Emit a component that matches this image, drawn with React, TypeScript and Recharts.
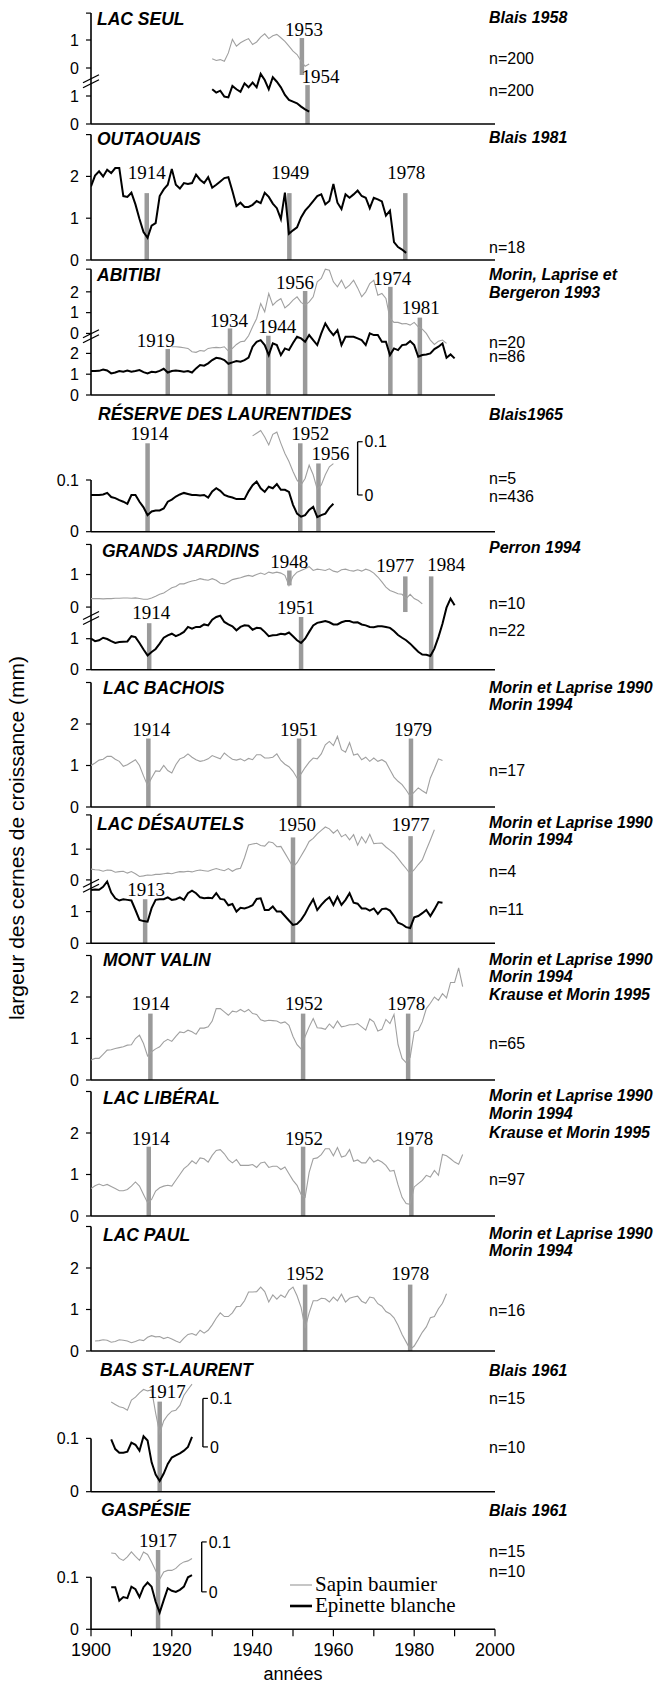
import React from 'react';
import { LineChart, Line, XAxis, YAxis, ReferenceLine, ReferenceDot } from 'recharts';

const SANS = '"Liberation Sans", Arial, Helvetica, sans-serif';
const SERIF = '"Liberation Serif", "Times New Roman", serif';
const GRAY = '#a0a0a0';
const BAR = '#9a9a9a';
const PAGE_W = 664;
const PAGE_H = 1684;
const PLOT_LEFT = 91;
const PLOT_RIGHT = 495;

// ---------------- DATA ----------------
const xTicks = [1900, 1910, 1920, 1930, 1940, 1950, 1960, 1970, 1980, 1990, 2000];

const lacSeulSapin = [0.33, 0.27, 0.30, 0.24, 0.54, 1.02, 0.78, 0.90, 0.98, 1.05, 0.84, 0.93, 1.10, 1.22, 1.05, 1.15, 1.20, 1.08, 0.95, 0.78, 0.60, 0.48, 0.25, 0.06, 0.14]; // 1930-
const lacSeulEpinette = [1.24, 1.12, 1.19, 0.98, 0.95, 1.36, 1.24, 1.15, 1.45, 1.31, 1.48, 1.31, 1.79, 1.57, 1.24, 1.67, 1.51, 1.31, 1.04, 0.86, 0.80, 0.74, 0.62, 0.52, 0.44]; // 1930-

const outaouaisEpinette = [
  1.76, 2.02, 2.12, 2.00, 2.16, 2.08, 2.20, 2.20, 1.53, 1.51,
  1.61, 1.33, 0.98, 0.67, 0.53, 0.82, 0.88, 1.53, 1.69, 1.80,
  2.18, 1.80, 1.71, 1.84, 1.82, 1.84, 2.04, 1.92, 1.84, 1.98,
  1.73, 1.80, 1.88, 1.96, 1.98, 1.65, 1.29, 1.37, 1.27, 1.27,
  1.32, 1.41, 1.36, 1.61, 1.51, 1.35, 1.24, 0.98, 1.61, 0.63,
  0.71, 0.78, 1.02, 1.18, 1.29, 1.41, 1.53, 1.57, 1.33, 1.41,
  1.82, 1.37, 1.22, 1.57, 1.49, 1.57, 1.66, 1.53, 1.49, 1.24,
  1.49, 1.45, 1.40, 1.06, 1.18, 0.43, 0.31, 0.25, 0.17]; // 1900-1978

const abitibiSapin = [
  -0.64, -0.64, -0.66, -0.69, -0.72, -0.88, -0.91, -0.82, -0.85, -0.72,
  -0.69, -0.67, -0.69, -0.64, -0.85, -0.72, -0.53, -0.40, -0.37, -0.11,
  0.32, 0.72, 1.44, 1.04, 1.92, 1.36, 1.55, 1.68, 1.23, 1.39,
  1.60, 1.76, 1.49, 1.36, 1.52, 1.76, 2.48, 2.64, 3.09, 3.04,
  2.48, 2.24, 2.56, 2.16, 2.32, 2.56, 2.19, 1.76, 2.00, 2.40,
  2.56, 1.84, 1.92, 1.68, 0.72, 0.53, 0.53, 0.46, 0.48, 0.40,
  0.53, 0.32, 0.21, 0.00, -0.32, -0.53, -0.37, -0.32, -0.48]; // 1920-1988
const abitibiEpinette = [
  1.15, 1.15, 1.16, 1.22, 1.18, 1.04, 1.08, 1.15, 1.12, 1.18,
  1.12, 1.15, 1.20, 1.10, 1.04, 1.12, 1.10, 1.16, 1.26, 1.08,
  1.15, 1.18, 1.15, 1.12, 1.15, 1.08, 1.28, 1.44, 1.41, 1.52,
  1.68, 1.79, 1.76, 1.68, 1.50, 1.57, 1.63, 1.60, 1.68, 1.80,
  2.32, 2.56, 2.64, 2.40, 1.92, 2.48, 2.40, 1.92, 2.24, 2.16,
  2.50, 2.80, 2.72, 2.56, 2.88, 2.64, 2.40, 2.96, 3.44, 3.12,
  2.88, 3.12, 2.40, 2.80, 2.80, 2.80, 2.72, 2.64, 2.40, 2.96,
  2.88, 2.88, 2.56, 2.56, 1.92, 2.24, 2.16, 2.40, 2.43, 2.59,
  2.40, 1.84, 1.92, 1.95, 2.00, 2.21, 2.32, 2.48, 1.79, 1.95, 1.76]; // 1900-1990

const reserveSapin = [0.111, 0.116, 0.121, 0.109, 0.094, 0.114, 0.118, 0.097, 0.078, 0.063, 0.044, 0.028, 0.019, 0.031, 0.056, 0.038, 0.011, 0.019, 0.038, 0.053, 0.059]; // 1940-1960
const reserveEpinette = [
  0.071, 0.071, 0.071, 0.072, 0.075, 0.067, 0.065, 0.061, 0.058, 0.054,
  0.071, 0.071, 0.058, 0.047, 0.032, 0.039, 0.041, 0.041, 0.045, 0.058,
  0.062, 0.068, 0.072, 0.075, 0.073, 0.071, 0.071, 0.070, 0.071, 0.066,
  0.078, 0.084, 0.079, 0.071, 0.068, 0.066, 0.063, 0.063, 0.063, 0.078,
  0.090, 0.097, 0.084, 0.077, 0.087, 0.084, 0.092, 0.081, 0.081, 0.077,
  0.052, 0.035, 0.029, 0.032, 0.042, 0.048, 0.028, 0.032, 0.035, 0.046,
  0.054]; // 1900-1960

const jardinsSapin = [
  0.26, 0.26, 0.26, 0.25, 0.26, 0.26, 0.27, 0.27, 0.28, 0.28,
  0.27, 0.28, 0.26, 0.24, 0.24, 0.28, 0.33, 0.39, 0.43, 0.51,
  0.59, 0.63, 0.71, 0.71, 0.76, 0.80, 0.82, 0.87, 0.84, 0.82,
  0.87, 0.82, 0.73, 0.71, 0.77, 0.84, 0.87, 0.90, 0.94, 0.97,
  0.94, 1.00, 1.04, 1.00, 1.07, 1.04, 1.07, 1.04, 0.97, 0.66,
  0.94, 1.07, 1.12, 1.17, 1.24, 1.12, 1.16, 1.14, 1.12, 1.17,
  1.10, 1.07, 1.14, 1.16, 1.12, 1.10, 1.14, 1.10, 1.16, 1.12,
  1.04, 0.92, 0.77, 0.61, 0.51, 0.46, 0.41, 0.39, 0.26, 0.39,
  0.26, 0.20, 0.10]; // 1900-1982
const jardinsEpinette = [
  1.00, 0.92, 0.95, 1.03, 0.99, 0.92, 0.86, 0.89, 0.90, 0.91,
  1.08, 1.05, 0.86, 0.65, 0.46, 0.57, 0.67, 0.84, 1.03, 1.11,
  1.16, 1.08, 1.14, 1.22, 1.38, 1.32, 1.38, 1.38, 1.46, 1.43,
  1.61, 1.70, 1.74, 1.54, 1.46, 1.40, 1.27, 1.38, 1.43, 1.42,
  1.29, 1.35, 1.34, 1.22, 1.08, 1.11, 1.12, 1.16, 1.14, 1.20,
  1.08, 0.95, 0.86, 1.00, 1.22, 1.43, 1.51, 1.54, 1.57, 1.53,
  1.46, 1.46, 1.53, 1.57, 1.57, 1.52, 1.53, 1.46, 1.43, 1.38,
  1.37, 1.40, 1.40, 1.38, 1.35, 1.25, 1.12, 1.03, 0.95, 0.84,
  0.71, 0.58, 0.49, 0.48, 0.44, 0.68, 1.05, 1.48, 2.00, 2.29,
  2.08]; // 1900-1990

const bachoisSapin = [
  1.00, 1.06, 1.13, 1.15, 1.22, 1.22, 1.15, 1.10, 0.98, 1.02,
  1.08, 1.14, 1.00, 0.75, 0.52, 0.70, 0.87, 0.86, 1.00, 0.88,
  0.82, 1.02, 1.16, 1.20, 1.28, 1.20, 1.14, 1.10, 1.12, 1.16,
  1.24, 1.20, 1.16, 1.30, 1.22, 1.15, 1.13, 1.16, 1.11, 1.17,
  1.14, 1.26, 1.26, 1.18, 1.18, 1.20, 1.28, 1.12, 1.03, 0.97,
  0.86, 0.70, 0.80, 0.95, 1.08, 1.18, 1.16, 1.28, 1.50, 1.58,
  1.48, 1.70, 1.38, 1.32, 1.55, 1.25, 1.28, 1.14, 1.20, 1.10,
  1.18, 1.10, 1.14, 1.08, 0.90, 0.72, 0.62, 0.54, 0.41, 0.26,
  0.36, 0.46, 0.39, 0.33, 0.70, 0.92, 1.16, 1.12]; // 1900-1987

const desautelsSapin = [
  0.35, 0.33, 0.32, 0.28, 0.32, 0.31, 0.25, 0.27, 0.28, 0.22,
  0.27, 0.20, 0.11, 0.13, 0.16, 0.15, 0.18, 0.18, 0.20, 0.22,
  0.20, 0.24, 0.27, 0.26, 0.28, 0.26, 0.30, 0.32, 0.30, 0.28,
  0.33, 0.37, 0.33, 0.30, 0.37, 0.28, 0.35, 0.38, 0.72, 1.14,
  1.17, 1.19, 1.12, 1.10, 1.24, 1.21, 1.08, 1.09, 0.87, 0.65,
  0.42, 0.56, 0.78, 1.00, 1.25, 1.35, 1.50, 1.61, 1.72, 1.66,
  1.52, 1.63, 1.40, 1.48, 1.30, 1.47, 1.13, 1.40, 1.20, 1.48,
  1.18, 1.19, 1.20, 1.07, 0.97, 0.86, 0.70, 0.53, 0.37, 0.20,
  0.33, 0.50, 0.65, 0.98, 1.30, 1.63]; // 1900-1985
const desautelsEpinette = [
  1.68, 1.70, 1.69, 1.78, 1.95, 1.60, 1.42, 1.35, 1.39, 1.37,
  1.35, 1.05, 0.74, 0.70, 0.68, 1.11, 1.37, 1.39, 1.39, 1.45,
  1.37, 1.39, 1.45, 1.37, 1.58, 1.66, 1.58, 1.45, 1.42, 1.44,
  1.42, 1.58, 1.40, 1.38, 1.20, 1.24, 1.00, 1.12, 1.10, 1.14,
  1.20, 1.40, 1.42, 1.05, 1.05, 1.16, 1.00, 1.00, 0.86, 0.72,
  0.58, 0.61, 0.74, 0.93, 1.18, 1.39, 1.05, 1.21, 1.35, 1.45,
  1.21, 1.47, 1.21, 1.37, 1.58, 1.28, 1.25, 1.10, 1.10, 1.03,
  1.10, 0.93, 1.08, 1.10, 1.03, 0.86, 0.65, 0.60, 0.51, 0.48,
  0.82, 0.86, 0.95, 1.05, 0.86, 1.07, 1.30, 1.28]; // 1900-1987

const valinSapin = [
  0.48, 0.52, 0.52, 0.62, 0.72, 0.73, 0.76, 0.78, 0.80, 0.84,
  0.85, 1.00, 1.08, 0.88, 0.58, 0.68, 0.75, 0.80, 0.92, 0.98,
  0.93, 1.05, 1.16, 1.14, 1.20, 1.16, 1.10, 1.25, 1.25, 1.28,
  1.42, 1.72, 1.72, 1.64, 1.56, 1.66, 1.64, 1.70, 1.64, 1.70,
  1.60, 1.58, 1.45, 1.42, 1.44, 1.43, 1.42, 1.37, 1.40, 1.32,
  1.05, 0.85, 0.75, 1.05, 1.28, 1.48, 1.26, 1.25, 1.22, 1.35,
  1.25, 1.42, 1.28, 1.30, 1.33, 1.33, 1.36, 1.28, 1.20, 1.47,
  1.40, 1.18, 1.22, 1.46, 1.36, 1.58, 0.85, 0.52, 0.42, 0.55,
  1.16, 1.20, 1.40, 1.72, 1.85, 2.00, 1.92, 2.08, 1.98, 2.35,
  2.35, 2.70, 2.25]; // 1900-1992

const liberalSapin = [
  0.66, 0.73, 0.77, 0.73, 0.76, 0.71, 0.66, 0.61, 0.61, 0.64,
  0.72, 0.82, 0.72, 0.52, 0.32, 0.40, 0.60, 0.68, 0.72, 0.74,
  0.72, 0.86, 1.00, 1.14, 1.22, 1.33, 1.26, 1.40, 1.38, 1.30,
  1.46, 1.58, 1.60, 1.50, 1.36, 1.28, 1.36, 1.22, 1.22, 1.22,
  1.24, 1.17, 1.28, 1.30, 1.17, 1.20, 1.20, 1.12, 1.18, 1.02,
  0.86, 0.74, 0.52, 0.45, 1.05, 1.38, 1.40, 1.48, 1.62, 1.62,
  1.45, 1.65, 1.42, 1.45, 1.60, 1.32, 1.35, 1.28, 1.28, 1.42,
  1.30, 1.35, 1.30, 1.22, 1.08, 1.10, 0.75, 0.45, 0.30, 0.28,
  0.70, 0.78, 0.86, 0.98, 0.94, 1.10, 0.98, 1.48, 1.45, 1.38,
  1.30, 1.25, 1.48]; // 1900-1992

const paulSapin = [
  0.24, 0.25, 0.27, 0.26, 0.21, 0.23, 0.27, 0.26, 0.24,
  0.20, 0.23, 0.27, 0.25, 0.33, 0.37, 0.34, 0.35, 0.30, 0.33,
  0.29, 0.24, 0.20, 0.31, 0.40, 0.42, 0.38, 0.50, 0.43, 0.50,
  0.63, 0.79, 0.92, 0.83, 0.83, 0.92, 1.07, 1.08, 1.21, 1.42,
  1.42, 1.43, 1.54, 1.43, 1.18, 1.35, 1.25, 1.35, 1.29, 1.46,
  1.54, 1.33, 1.05, 0.55, 0.92, 1.21, 1.21, 1.27, 1.26, 1.18,
  1.30, 1.21, 1.37, 1.18, 1.27, 1.30, 1.32, 1.20, 1.15, 1.30,
  1.28, 1.14, 1.08, 0.95, 0.90, 0.80, 0.62, 0.40, 0.22, 0.04,
  0.12, 0.28, 0.45, 0.58, 0.80, 0.83, 1.02, 1.15, 1.38]; // 1901-1988

const basSapin = [0.093, 0.088, 0.083, 0.081, 0.076, 0.097, 0.103, 0.112, 0.119, 0.116, 0.118, 0.070, 0.028, 0.054, 0.066, 0.074, 0.076, 0.086, 0.107, 0.119, 0.130]; // 1905-1925
const basEpinette = [0.098, 0.080, 0.073, 0.073, 0.075, 0.092, 0.088, 0.077, 0.104, 0.096, 0.055, 0.032, 0.020, 0.034, 0.052, 0.064, 0.068, 0.072, 0.077, 0.084, 0.103]; // 1905-1925

const gaspeSapin = [0.078, 0.077, 0.067, 0.063, 0.070, 0.080, 0.071, 0.063, 0.080, 0.075, 0.060, 0.043, 0.025, 0.040, 0.043, 0.043, 0.047, 0.055, 0.060, 0.062, 0.067]; // 1905-1925
const gaspeEpinette = [0.081, 0.081, 0.055, 0.062, 0.060, 0.082, 0.077, 0.062, 0.081, 0.090, 0.082, 0.053, 0.032, 0.056, 0.079, 0.074, 0.072, 0.076, 0.082, 0.100, 0.104]; // 1905-1925

// ---------------- TYPES / HELPERS ----------------
type Series = { start: number; values: number[]; offset?: number; scale?: number };
type Ev = { label: string; x: number; y0: number; y1: number; ly: number; dx: number };
type PanelCfg = {
  key: string; topY: number; zeroY: number; ppu: number; axisTop: number;
  ticks: number[]; tickLabels: string[]; breakAt?: number;
  gray?: Series; black?: Series; events: Ev[];
  scaleBar?: { x: number; y0: number; y1: number };
  bottom?: boolean;
};

const toPoints = (s: Series) =>
  s.values.map((v, i) => ({ year: s.start + i, v: (s.offset ?? 0) + v * (s.scale ?? 1) }));

const T3 = [0, 1, 2, 3];
const L3 = ['0', '1', '2', ''];
const T01 = [0, 0.1];
const L01 = ['0', '0.1'];

const panels: PanelCfg[] = [
  {
    key: 'seul', topY: 0, zeroY: 124, ppu: 28, axisTop: 3.96,
    ticks: [0, 1, 2, 3, 3.96], tickLabels: ['0', '1', '0', '1', ''], breakAt: 1.51,
    gray: { start: 1930, values: lacSeulSapin, offset: 2 },
    black: { start: 1930, values: lacSeulEpinette },
    events: [
      { label: '1953', x: 1952.2, y0: 1.75, y1: 3.07, ly: 3.14, dx: 2 },
      { label: '1954', x: 1953.6, y0: 0, y1: 1.39, ly: 1.47, dx: 13 },
    ],
  },
  {
    key: 'outa', topY: 125, zeroY: 260, ppu: 41.8, axisTop: 3, ticks: T3, tickLabels: L3,
    black: { start: 1900, values: outaouaisEpinette },
    events: [
      { label: '1914', x: 1913.8, y0: 0, y1: 1.6, ly: 1.93, dx: 0 },
      { label: '1949', x: 1949.1, y0: 0, y1: 1.6, ly: 1.93, dx: 1 },
      { label: '1978', x: 1977.8, y0: 0, y1: 1.6, ly: 1.93, dx: 1 },
    ],
  },
  {
    key: 'abit', topY: 261, zeroY: 395, ppu: 20.8, axisTop: 6.05,
    ticks: [0, 1, 2, 2.96, 3.96, 4.96, 6.05], tickLabels: ['0', '1', '2', '0', '1', '2', ''], breakAt: 2.8,
    gray: { start: 1920, values: abitibiSapin, offset: 2.96 },
    black: { start: 1900, values: abitibiEpinette },
    events: [
      { label: '1919', x: 1919.0, y0: 0, y1: 2.21, ly: 2.32, dx: -12 },
      { label: '1934', x: 1934.4, y0: 0, y1: 3.2, ly: 3.28, dx: -1 },
      { label: '1944', x: 1943.9, y0: 0, y1: 2.85, ly: 2.96, dx: 9 },
      { label: '1956', x: 1953.0, y0: 0, y1: 5.0, ly: 5.1, dx: -10 },
      { label: '1974', x: 1974.1, y0: 0, y1: 5.2, ly: 5.29, dx: 2 },
      { label: '1981', x: 1981.4, y0: 0, y1: 3.72, ly: 3.88, dx: 1 },
    ],
  },
  {
    key: 'rese', topY: 396, zeroY: 531.7, ppu: 517, axisTop: 0.1, ticks: T01, tickLabels: L01,
    gray: { start: 1940, values: reserveSapin, offset: 0.071, scale: 1.03 },
    black: { start: 1900, values: reserveEpinette },
    events: [
      { label: '1914', x: 1914.0, y0: 0, y1: 0.171, ly: 0.177, dx: 2 },
      { label: '1952', x: 1951.8, y0: 0, y1: 0.171, ly: 0.177, dx: 10 },
      { label: '1956', x: 1956.3, y0: 0, y1: 0.132, ly: 0.139, dx: 12 },
    ],
    scaleBar: { x: 1966, y0: 0.071, y1: 0.174 },
  },
  {
    key: 'jard', topY: 533, zeroY: 669.7, ppu: 31, axisTop: 4.04,
    ticks: [0, 1, 2.02, 3.07, 4.04], tickLabels: ['0', '1', '0', '1', ''], breakAt: 1.65,
    gray: { start: 1900, values: jardinsSapin, offset: 2.02, scale: 1.054 },
    black: { start: 1900, values: jardinsEpinette },
    events: [
      { label: '1948', x: 1949.1, y0: 2.72, y1: 3.2, ly: 3.28, dx: 0 },
      { label: '1977', x: 1977.8, y0: 1.86, y1: 3.01, ly: 3.15, dx: -10 },
      { label: '1914', x: 1914.4, y0: 0, y1: 1.5, ly: 1.65, dx: 2 },
      { label: '1951', x: 1952.0, y0: 0, y1: 1.7, ly: 1.8, dx: -5 },
      { label: '1984', x: 1984.2, y0: 0, y1: 3.01, ly: 3.17, dx: 15 },
    ],
  },
  {
    key: 'bach', topY: 671, zeroY: 807, ppu: 41.5, axisTop: 3, ticks: T3, tickLabels: L3,
    gray: { start: 1900, values: bachoisSapin },
    events: [
      { label: '1914', x: 1914.2, y0: 0, y1: 1.65, ly: 1.72, dx: 3 },
      { label: '1951', x: 1951.5, y0: 0, y1: 1.65, ly: 1.72, dx: 0 },
      { label: '1979', x: 1979.2, y0: 0, y1: 1.65, ly: 1.72, dx: 2 },
    ],
  },
  {
    key: 'desa', topY: 808, zeroY: 943.3, ppu: 31.7, axisTop: 4.05,
    ticks: [0, 1, 2.0, 2.97, 4.05], tickLabels: ['0', '1', '0', '1', ''], breakAt: 1.8,
    gray: { start: 1900, values: desautelsSapin, offset: 2.0, scale: 0.97 },
    black: { start: 1900, values: desautelsEpinette },
    events: [
      { label: '1913', x: 1913.4, y0: 0, y1: 1.39, ly: 1.49, dx: 1 },
      { label: '1950', x: 1950.0, y0: 0, y1: 3.34, ly: 3.55, dx: 4 },
      { label: '1977', x: 1979.1, y0: 0, y1: 3.38, ly: 3.55, dx: 0 },
    ],
  },
  {
    key: 'vali', topY: 944, zeroY: 1080, ppu: 41.5, axisTop: 3, ticks: T3, tickLabels: L3,
    gray: { start: 1900, values: valinSapin },
    events: [
      { label: '1914', x: 1914.7, y0: 0, y1: 1.6, ly: 1.69, dx: 0 },
      { label: '1952', x: 1952.5, y0: 0, y1: 1.6, ly: 1.69, dx: 1 },
      { label: '1978', x: 1978.5, y0: 0, y1: 1.6, ly: 1.69, dx: -2 },
    ],
  },
  {
    key: 'libe', topY: 1081, zeroY: 1216, ppu: 41.5, axisTop: 3, ticks: T3, tickLabels: L3,
    gray: { start: 1900, values: liberalSapin },
    events: [
      { label: '1914', x: 1914.3, y0: 0, y1: 1.67, ly: 1.72, dx: 2 },
      { label: '1952', x: 1952.5, y0: 0, y1: 1.67, ly: 1.72, dx: 1 },
      { label: '1978', x: 1979.3, y0: 0, y1: 1.67, ly: 1.72, dx: 3 },
    ],
  },
  {
    key: 'paul', topY: 1217, zeroY: 1351, ppu: 41.5, axisTop: 3, ticks: T3, tickLabels: L3,
    gray: { start: 1901, values: paulSapin },
    events: [
      { label: '1952', x: 1953.0, y0: 0, y1: 1.6, ly: 1.72, dx: 0 },
      { label: '1978', x: 1979.0, y0: 0, y1: 1.6, ly: 1.72, dx: 0 },
    ],
  },
  {
    key: 'bass', topY: 1352, zeroY: 1491.7, ppu: 533, axisTop: 0.1, ticks: T01, tickLabels: L01,
    gray: { start: 1905, values: basSapin, offset: 0.084, scale: 0.906 },
    black: { start: 1905, values: basEpinette },
    events: [{ label: '1917', x: 1917.0, y0: 0, y1: 0.169, ly: 0.175, dx: 7 }],
    scaleBar: { x: 1927.7, y0: 0.084, y1: 0.175 },
  },
  {
    key: 'gasp', topY: 1492, zeroY: 1629.3, ppu: 520, axisTop: 0.1, ticks: T01, tickLabels: L01,
    gray: { start: 1905, values: gaspeSapin, offset: 0.072, scale: 0.96 },
    black: { start: 1905, values: gaspeEpinette },
    events: [{ label: '1917', x: 1916.6, y0: 0, y1: 0.1525, ly: 0.158, dx: 0 }],
    scaleBar: { x: 1927.4, y0: 0.072, y1: 0.168 },
    bottom: true,
  },
];

// ---------------- TEXT LAYOUT ----------------
const titles: [string, number, number][] = [
  ['LAC SEUL', 97, 25], ['OUTAOUAIS', 97, 145], ['ABITIBI', 97, 281],
  ['RÉSERVE DES LAURENTIDES', 98, 420], ['GRANDS JARDINS', 102, 557], ['LAC BACHOIS', 103, 694],
  ['LAC DÉSAUTELS', 97, 830], ['MONT VALIN', 103, 966], ['LAC LIBÉRAL', 103, 1104],
  ['LAC PAUL', 103, 1241], ['BAS ST-LAURENT', 100, 1376], ['GASPÉSIE', 101, 1516],
];
const refs: [string, number][] = [
  ['Blais 1958', 23], ['Blais 1981', 143], ['Morin, Laprise et', 280], ['Bergeron 1993', 298],
  ['Blais1965', 420], ['Perron 1994', 553],
  ['Morin et Laprise 1990', 693], ['Morin 1994', 710],
  ['Morin et Laprise 1990', 828], ['Morin 1994', 845],
  ['Morin et Laprise 1990', 965], ['Morin 1994', 982], ['Krause et Morin 1995', 1000],
  ['Morin et Laprise 1990', 1101], ['Morin 1994', 1119], ['Krause et Morin 1995', 1138],
  ['Morin et Laprise 1990', 1239], ['Morin 1994', 1256],
  ['Blais 1961', 1376], ['Blais 1961', 1516],
];
const nLabels: [string, number][] = [
  ['n=200', 64], ['n=200', 95.5], ['n=18', 253], ['n=20', 347.5], ['n=86', 362],
  ['n=5', 484], ['n=436', 501.5], ['n=10', 608.5], ['n=22', 636], ['n=17', 776],
  ['n=4', 876.5], ['n=11', 915], ['n=65', 1049], ['n=97', 1185], ['n=16', 1316],
  ['n=15', 1404], ['n=10', 1453], ['n=15', 1556.5], ['n=10', 1577],
];
const legendItems = [
  { label: 'Sapin baumier', color: GRAY, width: 1.2 },
  { label: 'Epinette blanche', color: '#000', width: 2.6 },
];

// ---------------- COMPONENTS ----------------
const yearLabel = (text: string, dx: number) => (p: any) => (
  <text x={p.cx + dx} y={p.cy} textAnchor="middle" fontFamily={SERIF} fontSize={19} fill="#000">{text}</text>
);
const breakMark = (p: any) => (
  <g stroke="#000" strokeWidth={1.3}>
    <line x1={p.cx - 8} y1={p.cy + 1} x2={p.cx + 8} y2={p.cy - 7} />
    <line x1={p.cx - 8} y1={p.cy + 6} x2={p.cx + 8} y2={p.cy - 2} />
  </g>
);
const scaleEnd = (text: string) => (p: any) => (
  <g>
    <line x1={p.cx} y1={p.cy} x2={p.cx + 5} y2={p.cy} stroke="#000" strokeWidth={1.2} />
    <text x={p.cx + 7} y={p.cy} dy="0.36em" fontFamily={SANS} fontSize={16} fill="#000">{text}</text>
  </g>
);

function Panel({ cfg }: { cfg: PanelCfg }) {
  const plotH = cfg.zeroY - cfg.topY;
  const dMax = plotH / cfg.ppu;
  const mb = cfg.bottom ? 40 : 12;
  const h = plotH + mb;
  return (
    <div style={{ position: 'absolute', left: 0, top: cfg.topY, width: PAGE_W, height: h }}>
      <LineChart width={PAGE_W} height={h} margin={{ top: 0, right: PAGE_W - PLOT_RIGHT, bottom: 0, left: 0 }}>
        <XAxis
          type="number" dataKey="year" domain={[1900, 2000]} allowDataOverflow height={mb}
          ticks={xTicks} interval={0}
          tick={cfg.bottom ? { fontSize: 18, fill: '#000', fontFamily: SANS } : false}
          tickFormatter={(v: number) => (v % 20 === 0 ? String(v) : '')}
          tickLine={cfg.bottom ? { stroke: '#000', strokeWidth: 1.2 } : false}
          tickSize={7} tickMargin={7}
          axisLine={{ stroke: '#000', strokeWidth: 1.6 }}
        />
        <YAxis
          type="number" domain={[0, dMax]} allowDataOverflow width={PLOT_LEFT} axisLine={false}
          ticks={cfg.ticks} interval={0}
          tickFormatter={(v: number) => cfg.tickLabels[cfg.ticks.indexOf(v)] ?? ''}
          tick={{ fontSize: 16, fill: '#000', fontFamily: SANS }}
          tickLine={{ stroke: '#000', strokeWidth: 1.2 }} tickSize={5} tickMargin={7}
        />
        <ReferenceLine segment={[{ x: 1900, y: 0 }, { x: 1900, y: cfg.axisTop }]} stroke="#000" strokeWidth={1.6} />
        {cfg.breakAt !== undefined && (
          <ReferenceDot x={1900} y={cfg.breakAt} r={1} shape={breakMark} />
        )}
        {cfg.events.map((e, i) => (
          <ReferenceLine key={'b' + i} segment={[{ x: e.x, y: e.y0 }, { x: e.x, y: e.y1 }]} stroke={BAR} strokeWidth={4.5} />
        ))}
        {cfg.scaleBar && (
          <ReferenceLine segment={[{ x: cfg.scaleBar.x, y: cfg.scaleBar.y0 }, { x: cfg.scaleBar.x, y: cfg.scaleBar.y1 }]} stroke="#000" strokeWidth={1.4} />
        )}
        {cfg.scaleBar && <ReferenceDot x={cfg.scaleBar.x} y={cfg.scaleBar.y1} r={1} shape={scaleEnd('0.1')} />}
        {cfg.scaleBar && <ReferenceDot x={cfg.scaleBar.x} y={cfg.scaleBar.y0} r={1} shape={scaleEnd('0')} />}
        {cfg.gray && (
          <Line data={toPoints(cfg.gray)} dataKey="v" type="linear" stroke={GRAY} strokeWidth={1.1} dot={false} isAnimationActive={false} />
        )}
        {cfg.black && (
          <Line data={toPoints(cfg.black)} dataKey="v" type="linear" stroke="#000" strokeWidth={2} dot={false} isAnimationActive={false} />
        )}
        {cfg.events.map((e, i) => (
          <ReferenceDot key={'l' + i} x={e.x} y={e.ly} r={1} shape={yearLabel(e.label, e.dx)} />
        ))}
      </LineChart>
    </div>
  );
}

export default function App() {
  return (
    <div style={{ position: 'absolute', left: 0, top: 0, width: PAGE_W, height: PAGE_H, background: '#fff', overflow: 'hidden' }}>
      {panels.map((p) => <Panel key={p.key} cfg={p} />)}
      <svg width={PAGE_W} height={PAGE_H} style={{ position: 'absolute', left: 0, top: 0, pointerEvents: 'none' }}>
        {titles.map(([t, x, y], i) => (
          <text key={'t' + i} x={x} y={y} fontFamily={SANS} fontWeight="bold" fontStyle="italic" fontSize={17.5} fill="#000">{t}</text>
        ))}
        {refs.map(([t, y], i) => (
          <text key={'r' + i} x={489} y={y} fontFamily={SANS} fontWeight="bold" fontStyle="italic" fontSize={16} fill="#000">{t}</text>
        ))}
        {nLabels.map(([t, y], i) => (
          <text key={'n' + i} x={489} y={y} fontFamily={SANS} fontSize={16} fill="#000">{t}</text>
        ))}
        <text transform="translate(24,838) rotate(-90)" textAnchor="middle" fontFamily={SANS} fontSize={21} fill="#000">
          largeur des cernes de croissance (mm)
        </text>
        <text x={293} y={1680} textAnchor="middle" fontFamily={SANS} fontSize={18} fill="#000">années</text>
        {legendItems.map((it, i) => (
          <g key={'lg' + i}>
            <line x1={290} y1={1585 + i * 21} x2={312} y2={1585 + i * 21} stroke={it.color} strokeWidth={it.width} />
            <text x={315} y={1591 + i * 21} fontFamily={SERIF} fontSize={21} fill="#000">{it.label}</text>
          </g>
        ))}
      </svg>
    </div>
  );
}
